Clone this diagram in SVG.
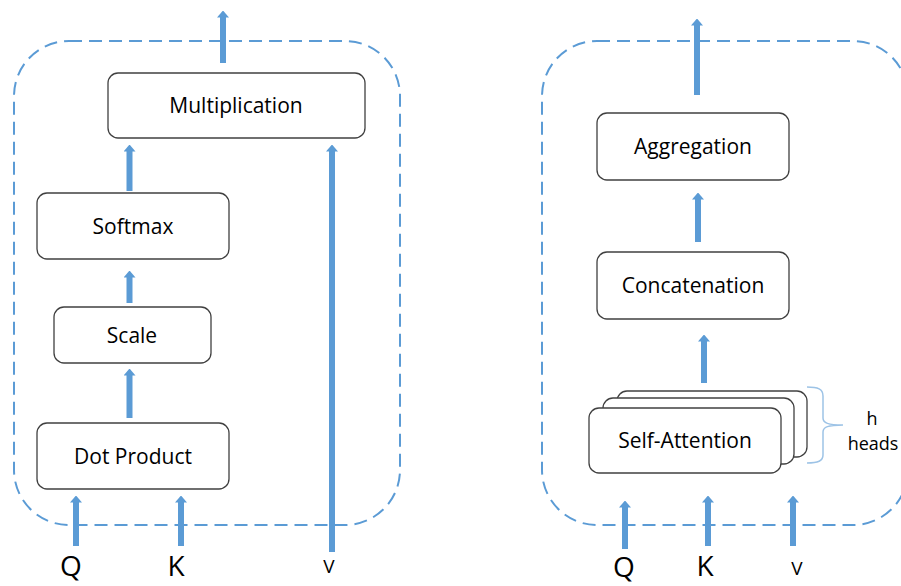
<svg xmlns="http://www.w3.org/2000/svg" width="901" height="586" viewBox="0 0 901 586">
  <style>
    .frame { fill: none; stroke: #5b9bd5; stroke-width: 2; stroke-dasharray: 13 7; }
    .box { fill: #ffffff; stroke: #404040; stroke-width: 1.3; }
    .label { font-family: "Open Sans", "Liberation Sans", sans-serif; font-size: 21px; fill: #000; text-anchor: middle; }
    .io { font-family: "Open Sans", "Liberation Sans", sans-serif; font-size: 28px; fill: #000; text-anchor: middle; }
    .io-small { font-family: "Open Sans", "Liberation Sans", sans-serif; font-size: 19px; fill: #000; text-anchor: middle; }
    .note { font-family: "Open Sans", "Liberation Sans", sans-serif; font-size: 18px; fill: #000; text-anchor: middle; }
    .flow { fill: none; stroke: #5b9bd5; stroke-width: 6; marker-end: url(#head); }
    .brace { fill: none; stroke: #9dc3e6; stroke-width: 1.5; }
  </style>
  <defs>
    <marker id="head" viewBox="0 0 7 12" markerWidth="7" markerHeight="12" refX="0.5" refY="6" orient="auto" markerUnits="userSpaceOnUse">
      <path d="M0,0 L7,6 L0,12 Z" fill="#5b9bd5"/>
    </marker>
  </defs>

  <!-- module outlines -->
  <rect class="frame" x="14" y="41" width="386" height="484" rx="55" ry="55"/>
  <rect class="frame" x="542" y="41" width="366" height="484" rx="55" ry="55"/>

  <!-- scaled dot-product attention -->
  <g id="multiplication">
    <rect class="box" x="108" y="73" width="257" height="65" rx="10"/>
    <text class="label" x="236" y="113">Multiplication</text>
  </g>
  <g id="softmax">
    <rect class="box" x="37" y="193" width="192" height="66" rx="10"/>
    <text class="label" x="133" y="234">Softmax</text>
  </g>
  <g id="scale">
    <rect class="box" x="54" y="307" width="157" height="56" rx="10"/>
    <text class="label" x="132" y="343">Scale</text>
  </g>
  <g id="dot-product">
    <rect class="box" x="37" y="423" width="192" height="66" rx="10"/>
    <text class="label" x="133" y="464">Dot Product</text>
  </g>

  <!-- multi-head attention -->
  <g id="aggregation">
    <rect class="box" x="597" y="113" width="192" height="67" rx="10"/>
    <text class="label" x="693" y="154">Aggregation</text>
  </g>
  <g id="concatenation">
    <rect class="box" x="597" y="252" width="192" height="67" rx="10"/>
    <text class="label" x="693" y="293">Concatenation</text>
  </g>
  <g id="self-attention">
    <rect class="box" x="617" y="391" width="190" height="66" rx="10"/>
    <rect class="box" x="603" y="398" width="191" height="66" rx="10"/>
    <rect class="box" x="589" y="408" width="192" height="65" rx="10"/>
    <text class="label" x="685" y="448">Self-Attention</text>
  </g>
  <g id="heads-brace">
    <path class="brace" d="M807,387 C818,387 823,389 823,396 L823,418 C823,423 828,425 843,425 C828,425 823,427 823,432 L823,455 C823,461 818,463 807,463"/>
    <text class="note" x="872" y="425">h</text>
    <text class="note" x="873" y="450">heads</text>
  </g>

  <!-- connectors -->
  <g id="connectors">
    <path class="flow" d="M223,63 V17"/>
    <path class="flow" d="M129.5,191 V151"/>
    <path class="flow" d="M129.5,303 V277"/>
    <path class="flow" d="M129.5,418 V375"/>
    <path class="flow" d="M76,546 V502"/>
    <path class="flow" d="M181,546 V502"/>
    <path class="flow" d="M332,552 V151"/>

    <path class="flow" d="M697,95 V25"/>
    <path class="flow" d="M698,242 V199"/>
    <path class="flow" d="M704,383 V341"/>
    <path class="flow" d="M625,549 V507"/>
    <path class="flow" d="M708,546 V502"/>
    <path class="flow" d="M793,546 V502"/>
  </g>

  <!-- inputs -->
  <text class="io" x="71" y="576">Q</text>
  <text class="io" x="176" y="576">K</text>
  <text class="io-small" x="329" y="573">V</text>
  <text class="io" x="624" y="577">Q</text>
  <text class="io" x="705" y="576">K</text>
  <text class="io-small" x="797" y="575">V</text>
</svg>
